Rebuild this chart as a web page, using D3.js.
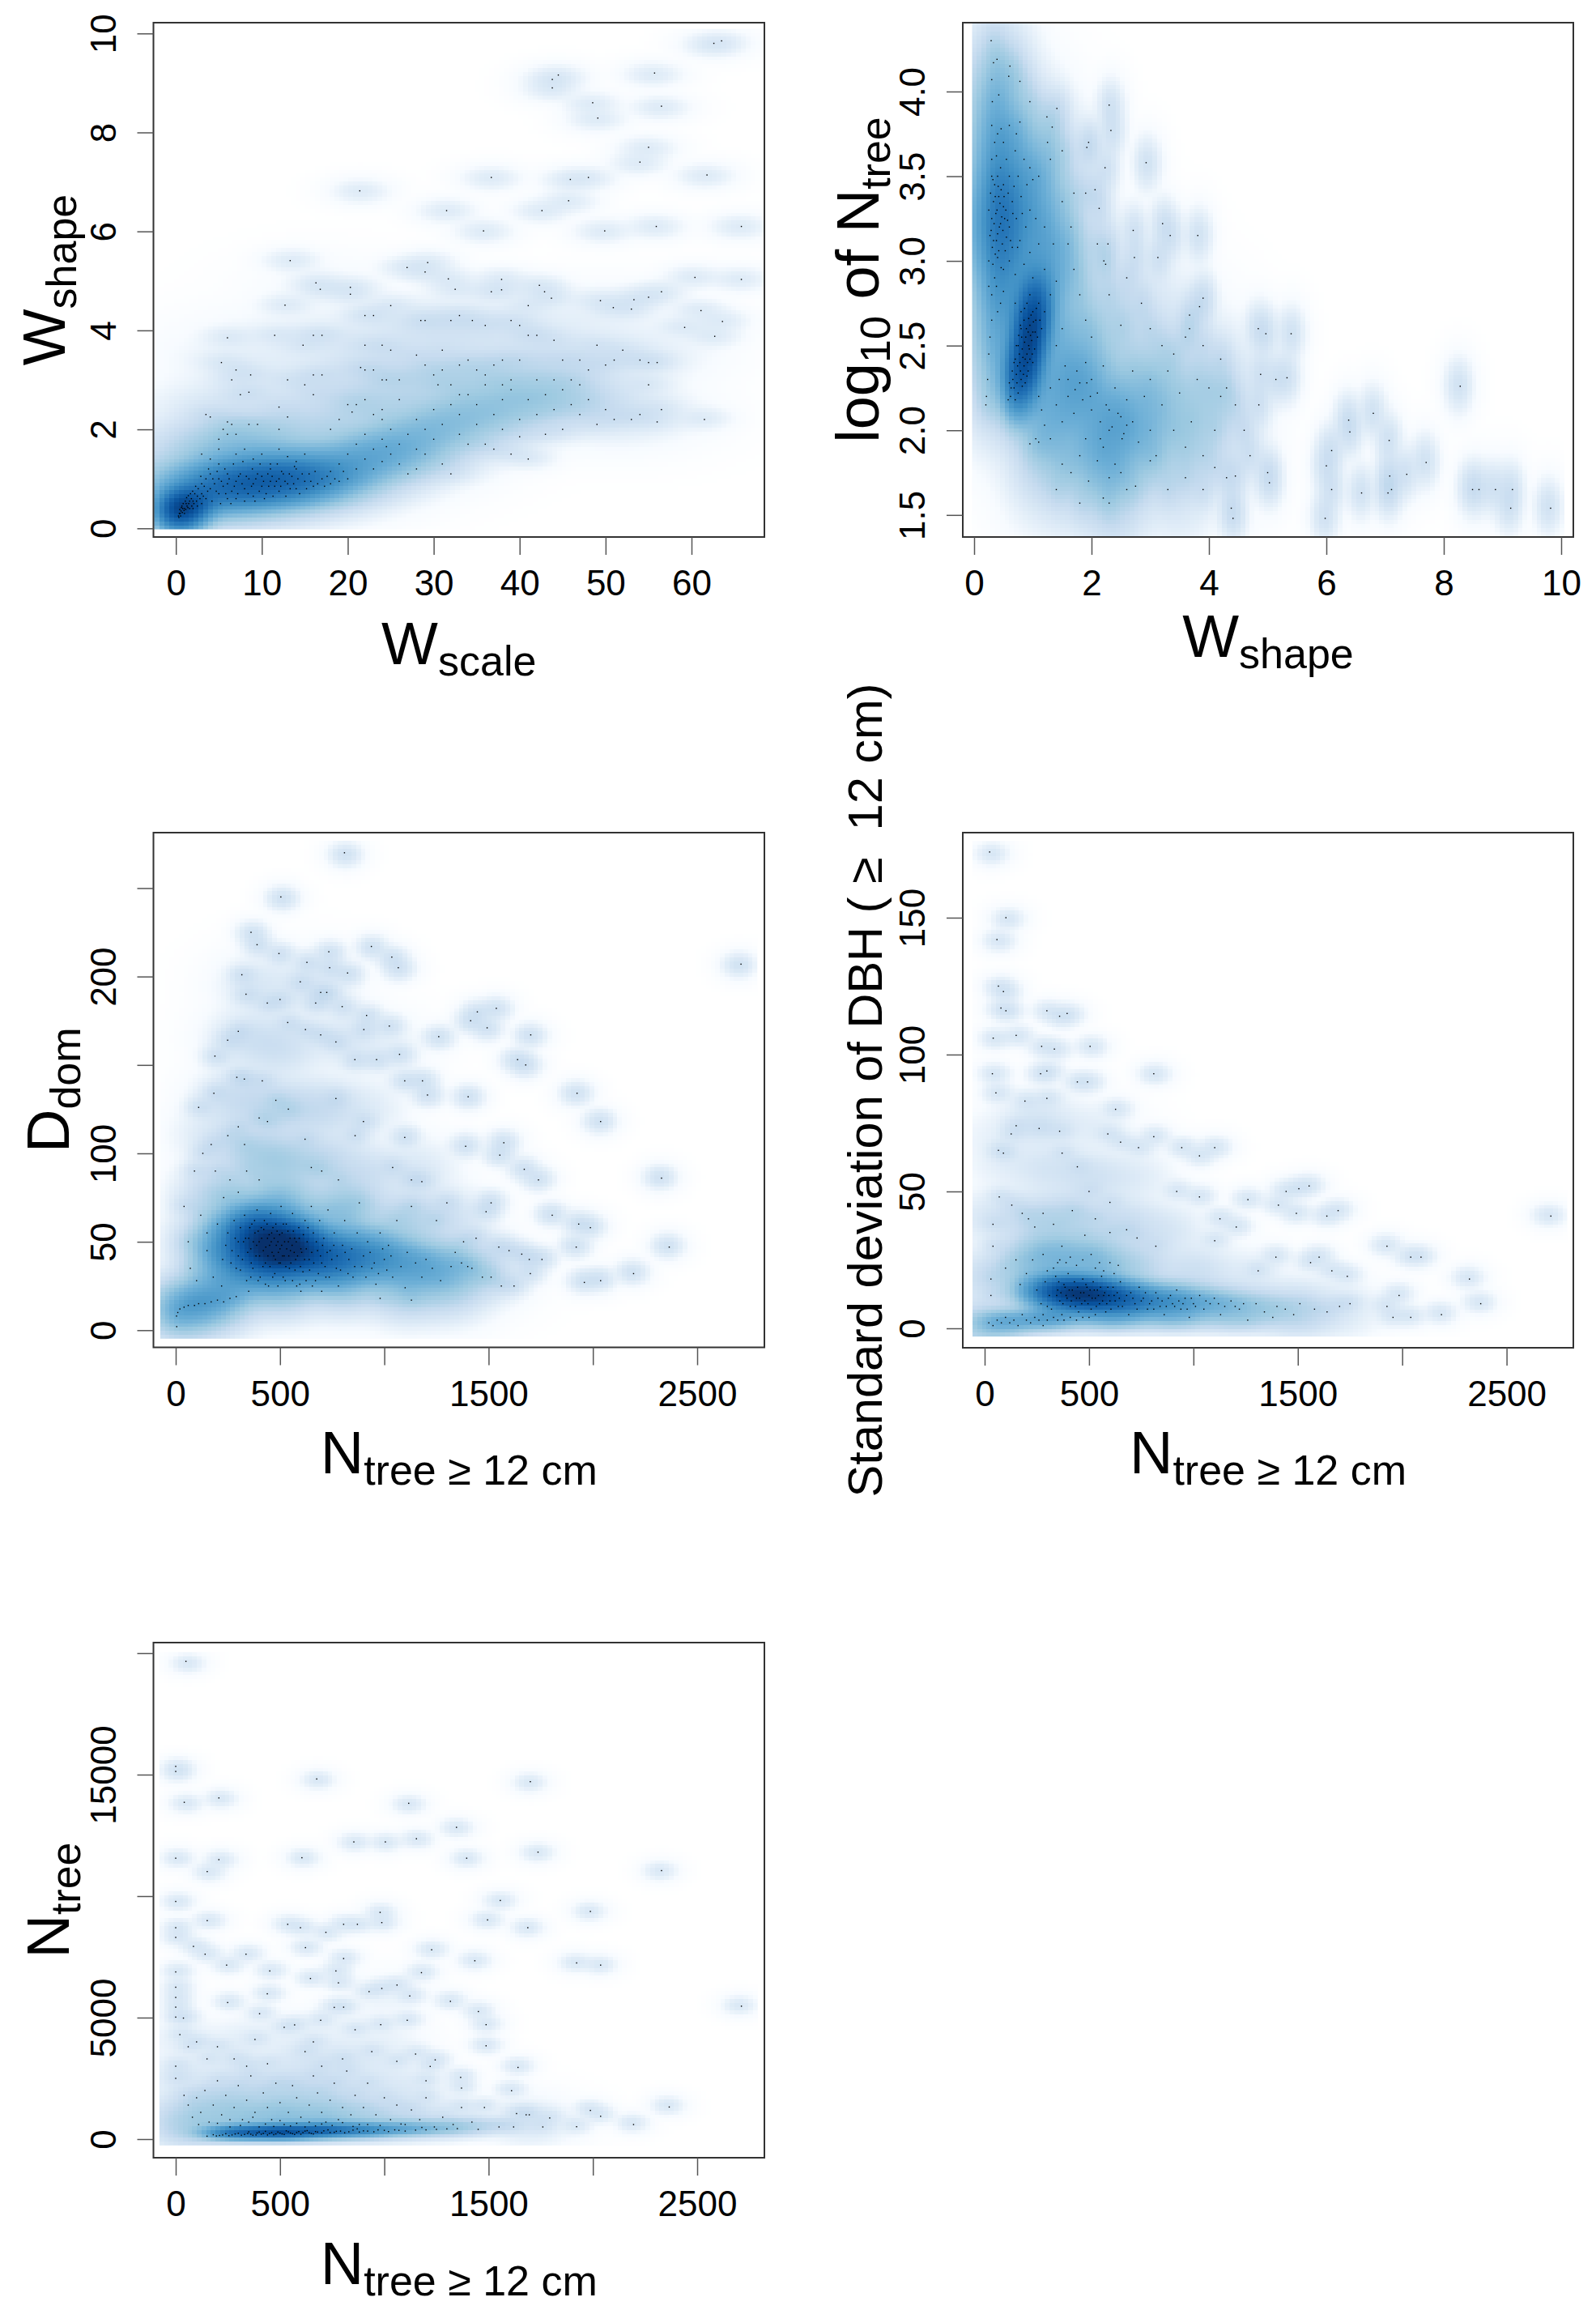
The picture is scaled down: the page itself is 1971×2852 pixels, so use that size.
<!DOCTYPE html>
<html>
<head>
<meta charset="utf-8">
<script src="https://cdnjs.cloudflare.com/ajax/libs/d3/7.8.5/d3.min.js"></script>
<style>
body { margin: 0; background: #fff; }
text { font-family: "Liberation Sans", Arial, sans-serif; fill: #000; }
</style>
</head>
<body>
<div id="chart"></div>
<script>
// points, [x, y]
const wShapeByScale = [[63.5,9.85],[62.6,9.8],[43.8,9.07],[44.5,9.16],[43.8,8.9],[48.5,8.6],[49.1,8.29],[55.7,9.2],[56.5,8.53],[55,7.7],[54,7.4],[61.8,7.14],[48,7.09],[45.9,7.05],[45.7,6.62],[42.6,6.42],[36.7,7.09],[21.4,6.82],[31.5,6.42],[35.8,6.01],[49.9,6.01],[55.9,6.1],[65.8,6.1],[13.3,5.41],[29,5.18],[29.3,5.37],[26.9,5.27],[16.3,4.96],[16.8,4.83],[20.3,4.87],[20.3,4.73],[12.7,4.51],[31.7,5.04],[37.9,5.03],[32.5,4.83],[36.7,4.78],[37.9,4.82],[42.3,4.91],[42.9,4.78],[43.7,4.65],[60.4,5.07],[65.8,5.03],[56.5,4.78],[55,4.67],[53.3,4.62],[49.4,4.6],[50.9,4.46],[53,4.43],[61.1,4.4],[63.6,4.18],[59.2,4.06],[62.7,3.88],
[.3,.25],[.4,.3],[.5,.3],[.6,.35],[.8,.4],[1,.4],[.7,.45],[1.2,.5],[1.5,.5],[1.3,.45],[1.8,.6],[2,.55],[2.2,.7],[2.5,.65],[1,.3],[1.6,.4],[2,.4],[2.5,.45],[3,.5],[3,.7],[3.5,.6],[3,.9],[3.5,1],[4,.8],[4,1.1],[4.5,.9],[5,.7],[5,1],[5,1.3],[5.5,.85],[6,.6],[6,.9],[6,1.1],[6.5,.75],[7,.95],[7,.6],[7.5,1.1],[8,.8],[8,.55],[8.5,1],[9,.9],[9,.65],[9.5,1.1],[10,.85],[10,1.05],[10.5,.7],[11,.95],[11,1.2],[11.5,.85],[12,1],[12,.75],[12.5,1.1],[13,.9],[13.5,1.05],[14,.8],[14,1.2],[15,.95],[15.5,1.1],[16,.85],[17,1],[18,1.15],[18,.9],[5,1.8],[5.5,2],[6,1.9],[6.5,2.1],[7,1.9],[4,1.4],[3,1.5],[5,1.6],[7,1.5],[8,1.6],[9,1.4],[10,1.5],[11,1.3],[12,1.6],[13,1.45],[14,1.35],[15,1.5],[3.5,2.3],[4,2.25],[6,2.15],[8.5,2.1],[9.5,2.1],[12,2],[13,2.25],[12,2.45],[7.5,2.7],[8.5,2.75],[8.7,3.1],[6.5,3],[5.3,3.35],[7,3.2],[13,3],[14.8,3.7],[11.5,3.9],[6,3.85],[16,3.9],[17,3.9],[15,2.9],[16,3.1],
[19,1.3],[20,1.5],[20,1],[21,1.7],[21,1.2],[22,1.9],[22,1.4],[23,1.6],[23,1.2],[24,1.8],[24,1.35],[24.5,1.65],[25,1.5],[25,2],[26,1.3],[26,1.7],[27,1.1],[27,1.9],[28,1.6],[28,2.2],[28,1.2],[29,2],[29,1.5],[30,1.8],[30,2.4],[31,1.3],[31,2.1],[32,1.1],[32,2.5],[33,1.9],[33,2.3],[34,2.7],[34,1.7],[35,2.1],[35,2.5],[36,1.7],[36,2.9],[37,2.3],[37,1.6],[38,2.6],[38,2],[39,1.5],[39,2.8],[40,2.2],[40,1.85],[41,1.4],[41,2.6],[42,2.3],[42,3],[43,1.9],[43,2.7],[44,2.4],[44,3],[45,2],[45,2.8],[46,2.5],[47,2.3],[47,2.9],[48,2.6],[49,2.1],[50,2.4],[51,2.2],[53,2.2],[54,2.3],[56,2.15],[56.5,2.4],[61.5,2.2],[50,3.3],
[20,2.5],[21,2.5],[20.5,2.35],[22,2.6],[19,2.2],[18,2],[23,2.3],[24,2.4],[26,2.6],[24,2.2],[26,3],[22,3.2],[21.5,3.25],[23,3.2],[24,3],[24.5,3],[17,3.1],[16,2.7],[22,3.7],[24,3.7],[25,3.6],[28,3.5],[29,3.3],[30,3.1],[31,3.2],[30.5,2.9],[32,2.9],[33,2.7],[31,3.6],[33,3.3],[34,3.4],[35,3.2],[36,3.1],[37,3.3],[38,3.4],[39,3],[38,2.9],[40,3.4],[41,3.9],[42,3.9],[44,3.8],[45,3.4],[46,3],[47,3.4],[48,3.2],[49,3.7],[51,3.4],[52,3.6],[54,3.4],[55,2.9],[56,3.35],[55,3.35],[25,4.5],[22,4.3],[23,4.3],[28.5,4.2],[29,4.2],[32,4.2],[33,4.3],[34.5,4.2],[36,4.1],[39,4.2],[40,4.1],[41,4.5],
[.35,.22],[.45,.38],[.55,.25],[.65,.42],[.75,.32],[.85,.5],[.95,.36],[1.1,.55],[1.15,.38],[1.25,.62],[1.4,.42],[1.45,.66],[1.6,.55],[1.7,.7],[1.85,.45],[1.95,.75],[2.1,.5],[2.3,.85],[2.4,.55],[2.6,.8],[2.8,.6],[2.9,1.05],[3.2,.65],[3.3,.85],[3.7,.75],[3.8,1.2],[4.2,.55],[4.3,1],[4.7,.75],[4.8,1.15],[5.2,.5],[5.3,.95],[5.7,1.2],[5.8,.7],[6.2,1],[6.4,.5],[6.7,1.3],[6.8,.85],[7.2,.7],[7.3,1.05],[7.7,.9],[7.8,1.35],[8.2,1.05],[8.4,.7],[8.8,.85],[8.9,1.2],[9.2,.55],[9.3,1],[9.7,.75],[9.8,1.3],[10.2,.95],[10.3,.6],[10.7,1.1],[10.8,.85],[11.2,1.05],[11.3,.65],[11.7,.95],[11.8,1.3],[12.2,.85],[12.3,1.15],[12.7,.95],[12.8,.65],[13.2,1.1],[13.3,.8],[13.7,.9],[13.8,1.25],[14.2,1],[14.4,.7],[14.7,1.1],[15.2,.8],[15.7,.95],[16.2,1.15],[16.5,.9],[17.3,.85],[17.6,1.05],[18.5,1],[19,.95],[19.5,1.15]];
// broad shade, [x, y, shade 0-1, x width, y width]
const wShapeByScaleShade = [[.2,.3,1,1,2],[1.5,.45,.85,1,1.6],[4,.7,.74],[7,.85,.74],[10,.92,.78],[13,.97,.74],[16,1,.62],[19,1.15,.5],[22,1.4,.48],[25,1.55,.48],[28,1.8,.42],[31,2.1,.42],[35,2.3,.38],[39,2.5,.37],[43,2.7,.36],[47,2.6,.27],[52,2.3,.22],[30,3,.33],[36,3.1,.3],[42,3.3,.27],[48,3.4,.22],[54,3.5,.18],[22,2.6,.33],[16,2.1,.3],[10,1.7,.4],[6,1.7,.38],[3,1.5,.32],[5,2.4,.22],[10,2.6,.2],[16,3,.18],[23,3.3,.24],[29,4,.24],[35,4,.22],[42,4,.18],[50,4.3,.15],[6,3.4,.14],[10,3.3,.14],[8,3.9,.1],[14,3.8,.15],[20,3.8,.18],[18,4.8,.12],[0,1,.33]];

const logNByShape = [[2.93,3.58],[3.34,3.15],[3.21,3.22],[3.81,3.15],[2.71,3.18],[2.73,3.02],[3.13,3.02],[3.9,2.78],[3.84,2.73],[3.67,2.68],[3.67,2.6],[4.84,2.6],[4.97,2.57],[5.4,2.57],[5.14,2.3],[5.33,2.31],[4.88,2.33],[8.28,2.26],[6.38,2.06],[6.4,1.99],[6.8,2.1],[7.07,1.94],[6.09,1.88],[6,1.79],[7.7,1.81],[7.37,1.74],[7.08,1.73],[6.09,1.65],[6.6,1.63],[7.05,1.63],[7.11,1.65],[8.49,1.65],[8.6,1.65],[8.88,1.65],[9.17,1.65],[9.14,1.54],[9.82,1.54],[5.98,1.48],[5,1.75],[5.03,1.69],[4.45,1.73],[4.38,1.54],[4.41,1.48],[2.3,3.92],[2.33,3.77],[1.95,3.7],[1.92,3.67],[2.23,3.55],[2.06,3.42],[2.13,3.31],[2.28,3.1],[2.21,3],[2.24,2.98],[.29,4.3],[.33,4.17],[.39,4.19],[.61,4.15],[.59,4.09],[.78,4.06],[.3,4.07],[.95,3.94],[.42,3.98],[.31,3.94],[1.41,3.9],[1.24,3.85],[1.33,3.79],[.78,3.82],[.72,3.75],[.46,3.78],
[.3,3.8],[.35,3.7],[.4,3.75],[.5,3.7],[.6,3.8],[.3,3.6],[.38,3.62],[.45,3.55],[.55,3.6],[.7,3.65],[.85,3.6],[.95,3.55],[.3,3.5],[.35,3.45],[.4,3.5],[.5,3.45],[.6,3.5],[.75,3.5],[.9,3.45],[1,3.48],[1.1,3.5],[.28,3.4],[.33,3.35],[.42,3.38],[.5,3.32],[.58,3.4],[.65,3.35],[.8,3.38],[.95,3.3],[.25,3.3],[.3,3.25],[.37,3.28],[.45,3.22],[.52,3.25],[.6,3.2],[.72,3.25],[.88,3.2],[1.05,3.25],[1.2,3.2],[.27,3.15],[.33,3.12],[.4,3.16],[.48,3.1],[.55,3.14],[.65,3.08],[.78,3.12],[.95,3.05],[1.1,3.1],[1.35,3.1],[.25,3],[.32,2.98],[.4,3.02],[.5,2.95],[.6,3],[.7,2.92],[.85,2.98],[1,2.9],[1.2,2.95],[1.4,2.88],[.25,2.85],[.3,2.8],[.38,2.85],[.45,2.75],[.5,2.82],[.4,2.7],[.3,2.65],[.27,2.55],[.25,2.45],[.23,2.3],[.21,2.2],[.2,2.15],[.35,2.9],
[.7,2.75],[.8,2.7],[.9,2.75],[.95,2.8],[1,2.7],[1.05,2.65],[1.1,2.75],[.85,2.65],[.95,2.62],[1,2.58],[1.08,2.55],[.8,2.6],[.88,2.55],[.93,2.5],[.98,2.53],[1.03,2.48],[.75,2.5],[.82,2.48],[.9,2.45],[.95,2.42],[1,2.4],[.7,2.42],[.78,2.4],[.85,2.38],[.92,2.35],[.65,2.35],[.72,2.33],[.8,2.3],[.87,2.28],[.6,2.28],[.68,2.25],[.75,2.22],[.62,2.2],[.7,2.18],[.58,2.18],[1.15,2.6],[1.2,2.7],[1.3,2.8],
[1.1,2.2],[1.15,2.12],[1.2,2.03],[1.3,2.25],[1.4,2.15],[1.45,2.3],[1.5,2.05],[1.55,2.38],[1.6,2.2],[1.7,2.1],[1.75,2.35],[1.8,2.28],[1.85,2.18],[1.9,2.4],[2,2.3],[2,2.12],[2.1,2.22],[2.15,2.05],[2.2,2.38],[2.3,2.12],[2.35,2.02],[2.4,2.25],[2.5,2.08],[2.55,1.98],[2.6,2.18],[2.7,2.35],[2.7,2.05],[2.8,1.93],[2.9,2.2],[3,2.3],[3,2],[3.1,1.85],[3.2,2.15],[3.3,2.35],[3.4,2],[3.5,2.22],[3.6,1.9],[3.7,2.05],[3.8,2.3],[3.9,1.85],[4,2.25],[4.1,2],[4.2,2.2],[4.3,2.25],[4.45,2.15],[4.6,2],[4.7,1.85],[4.85,2.15],[1.05,1.95],[.95,1.92],[1.1,1.93],[1.3,1.95],[1.5,1.8],[1.65,1.75],[1.8,1.85],[1.95,1.7],[2.1,1.82],[2.2,1.6],[2.3,1.72],[2.4,1.8],[2.5,1.75],[2.6,1.65],[2.75,1.67],[3,1.82],[3.3,1.65],[3.6,1.72],[3.9,1.65],[4.1,1.78],[4.3,1.72],[1.4,1.65],[1.8,1.57],[2.3,1.57],[1.9,1.95],[2.2,1.9],
[1.5,3.35],[1.6,3.1],[1.7,2.95],[1.8,2.8],[1.9,2.65],[2,2.55],[1.5,2.6],[1.4,2.5],[2.3,2.8],[2.5,2.62],[2.6,2.9],[2.85,2.75],[3,2.6],[3.2,2.5],[3.4,2.45],[3.6,2.55],[3.9,2.5],[4.2,2.42],[1.25,3.7],[1.3,3.6],[1.5,3.65],[1.7,3.4],[1.9,3.4],[1.65,3.2],[2.1,3.1],
[.72,2.5],[.76,2.56],[.79,2.35],[.83,2.43],[.86,2.52],[.89,2.6],[.91,2.4],[.94,2.48],[.96,2.56],[.99,2.45],[1.01,2.64],[.84,2.33],[.73,2.28],[.66,2.3],[.77,2.45],[.81,2.55],[.87,2.42],[.92,2.58],[.97,2.68],[1.04,2.58],[1.06,2.72],[1.12,2.65],[.68,2.4],[.63,2.25],[.82,2.26],[.9,2.32],[.74,2.38],[.79,2.62],[.86,2.72],[.93,2.66],
[.32,3.48],[.36,3.38],[.39,3.3],[.41,3.44],[.43,3.2],[.44,3.34],[.46,3.42],[.47,3.26],[.49,3.18],[.51,3.38],[.53,3.06],[.34,3.22],[.31,3.08],[.36,3.04],[.29,3.18],[.38,3.12],[.42,3.06],[.46,2.96],[.54,3.3],[.57,3.24],[.62,3.12],[.66,3.28],[.68,3.44],[.74,3.08],[.82,3.28],[1.6,2.3],[1.72,2.24],[1.92,2.28],[1.98,2.2],[2.25,2.15],[2.45,2.1],[2.6,2.03],[2.3,2],[2.52,1.95],[2.15,1.95]];
const logNByShapeShade = [[.35,4.05,.42],[.35,3.8,.52],[.4,3.55,.62],[.45,3.3,.74],[.45,3.05,.68],[.45,2.8,.6],[.4,2.55,.5],[.35,2.3,.38],[.12,3.2,.48],[.9,2.52,1,1.5,2.2],[.72,2.3,.88,1.5,1.8],[1.05,2.72,.88,1.5,1.8],[1.2,3,.58],[1,3.3,.56],[.95,3.65,.42],[1.2,3.5,.36],[1.5,3,.42],[1.5,3.5,.23],[2,3,.24],[2,2.55,.36],[1.5,2.6,.42],[1.4,2.3,.5],[1.8,2.25,.56],[2.4,2.05,.56],[2,1.9,.45],[1.4,1.9,.38],[2.9,1.95,.45],[3,2.2,.44],[3.5,2.1,.34],[3.9,2.1,.34],[4.2,2.2,.3],[2.3,1.8,.42],[3.5,1.85,.3],[1.2,2.05,.42],[1,1.85,.26],[2.4,1.6,.28],[3.5,1.6,.18],[3.5,2.5,.24],[2.5,2.6,.32],[3,2.7,.2],[1.6,1.75,.24],[4.5,1.9,.17]];

const dDomByN = [[809,270],[504,245],[361,225],[390,218],[495,213],[317,201],[629,208],[734,214],[738,205],[824,202],[938,217],[1036,211],[1067,205],[2710,207],[597,197],[724,191],[695,191],[671,185],[337,190],[500,187],[439,185],[798,183],[915,178],[1024,172],[1446,180],[1537,182],[1414,175],[1493,171],[1702,167],[1261,166],[300,169],[249,164],[188,155],[902,170],[695,167],[768,163],[622,170],[537,174],[1073,156],[963,153],[859,153],[1639,153],[1678,150],[1924,134],[2037,118],[1402,132],[1183,141],[1098,141],[1207,133],[415,141],[329,142],[293,143],[183,134],[110,126],[768,131],[2329,86],[2366,47],[2195,32],[2037,28],[1959,27],[1988,58],[1932,60],[1920,47],[1805,65],[1739,85],[1671,91],[1573,106],[1554,99],[1390,104],[1098,109],[1512,72],[1488,67],[1695,40],[1756,40],[1659,43],[1549,47],[1598,45],[1700,32],[1622,25],[1561,25],[1512,30],
[5,2],[4,8],[10,10],[20,12],[40,13],[60,14],[90,14],[110,15],[140,15],[170,16],[200,17],[230,16],[260,18],[290,19],[60,50],[40,70],[90,90],[130,100],[170,105],[190,90],[120,65],[150,45],[70,35],[100,28],[180,30],[220,25],[150,55],[200,60],[230,75],[260,85],[300,78],[340,90],[400,85],[250,110],[300,115],[330,105],[400,120],[440,118],[480,130],[540,125],[620,108],[650,92],[700,90],[780,85],[860,110],[900,118],[1040,92],[1130,85],[1180,84],
[250,55],[270,45],[280,62],[290,35],[300,50],[310,58],[320,40],[330,65],[340,28],[350,52],[360,46],[365,60],[370,35],[380,55],[385,42],[390,68],[400,50],[405,30],[410,58],[420,45],[425,62],[430,38],[440,52],[445,25],[450,48],[455,66],[460,55],[470,42],[475,32],[480,60],[490,50],[495,38],[500,46],[505,70],[510,55],[520,42],[525,28],[530,60],[540,50],[545,35],[550,45],[560,66],[570,52],[575,40],[580,25],[590,58],[600,46],[610,33],[620,62],[630,50],[640,40],[650,70],[660,55],[670,28],[680,45],[690,62],[700,38],[710,52],[720,30],[730,68],[740,45],[760,55],[770,35],[780,25],[800,48],[810,62],[830,40],[850,30],[870,55],[880,72],[900,42],[920,50],[940,35],[960,26],[980,55],[1000,40],[1020,48],[1040,30],[1060,62],[1080,36],[1100,24],[1110,44],[1130,70],[1150,38],[1180,30],[1200,40],[1230,35],[1250,62],[1270,28],[1300,72],[1320,36],[1340,44],[1370,38],[1380,50],[1400,36],[1420,35],[1440,52],[1470,30],[1130,17],[980,18],[700,22],[600,22],[350,22],
[335,52],[345,44],[355,58],[362,38],[372,50],[378,62],[388,48],[395,56],[402,42],[412,52],[418,36],[422,57],[432,47],[438,60],[442,42],[448,54],[452,36],[458,50],[462,44],[466,58],[472,52],[478,40],[482,48],[486,56],[492,44],[498,54],[502,38],[508,48],[512,42],[516,60],[522,50],[528,36],[532,46],[538,56],[542,42],[548,52],[552,38],[558,48],[564,56],[568,44],[572,34],[578,50],[584,42],[592,52],[598,36],[604,44],[612,54],[618,40],[626,46],[634,58],[642,34],[652,44],[662,38],[674,50],[684,32],[694,42],[704,48],[716,36],[726,44],[736,30],[748,40],[758,48],[774,42],[790,34],[812,44],[826,32],[844,46],[858,36],[892,36],[912,30],[932,44],[952,38],[972,32],[992,46],[1012,34],[1032,42],[310,34],[325,50],[300,42],[285,52],[265,38],[240,48],[225,40],[360,30],[395,28],[430,26],[465,30],[490,25],[515,30],[560,28],[595,26],[625,28],[655,25]];
const dDomByNShade = [[500,48,1],[370,55,.95],[430,42,.95],[570,45,.94],[700,40,.86],[850,42,.78],[1000,40,.68],[1150,36,.6],[1300,34,.5],[1450,33,.36],[250,42,.7],[190,50,.46],[300,30,.62],[500,25,.56],[800,27,.5],[1100,22,.42],[1300,22,.36],[500,72,.52],[800,68,.48],[1100,62,.36],[1300,62,.27],[210,75,.4],[350,100,.36],[500,95,.4],[700,95,.33],[900,88,.28],[1150,90,.22],[300,130,.3],[500,125,.34],[700,125,.3],[900,125,.2],[500,160,.27],[350,165,.26],[800,165,.22],[1000,160,.16],[180,110,.22],[20,10,.55],[100,15,.58],[200,18,.55],[400,195,.22],[650,195,.22]];

const sdByN = [[24,174],[102,150],[59,142],[66,125],[90,123],[78,117],[102,116],[298,116],[359,114],[395,115],[505,103],[334,102],[273,103],[41,106],[151,107],[810,93],[444,90],[493,90],[298,94],[268,93],[37,93],[54,86],[193,83],[298,84],[627,80],[151,74],[127,71],[261,73],[359,72],[810,70],[651,68],[737,66],[1029,63],[1102,66],[66,65],[90,64],[590,71],[944,66],[444,59],[371,64],[1505,51],[1444,50],[1554,52],[1693,43],[1639,41],[1493,42],[1407,45],[1261,47],[2712,41],[1927,30],[2090,26],[2041,26],[2322,18],[2376,9],[2188,5],[2041,4],[1927,8],[1985,12],[1956,4],[1602,26],[1561,24],[1737,19],[1663,21],[1395,26],[1310,21],[1102,32],[1205,37],[1127,40],[920,50],[1029,48],
[20,2],[40,1],[60,3],[80,2],[100,4],[120,2],[140,3],[160,1],[180,5],[200,3],[220,2],[240,4],[260,3],[280,1],[40,38],[40,30],[30,18],[70,48],[30,12],[130,45],[180,42],[210,40],[240,37],[280,42],[330,38],[370,30],[420,43],[480,34],[530,40],[600,35],[680,36],[730,33],[820,30],[500,50],[600,46],[200,20],[150,25],[100,22],[170,16],[230,25],[280,27],[350,24],[410,26],[510,27],[550,24],[600,24],[640,23],
[250,14],[270,9],[290,17],[310,12],[320,7],[340,19],[350,14],[360,10],[370,5],[380,16],[390,12],[400,20],[410,8],[420,14],[430,17],[440,11],[450,6],[460,13],[470,18],[480,10],[490,15],[500,12],[510,7],[520,17],[530,11],[540,14],[550,9],[560,19],[570,12],[580,6],[590,15],[600,10],[620,12],[640,8],[650,17],[670,10],[690,5],[700,13],[720,9],[740,15],[760,11],[780,7],[800,10],[820,13],[840,8],[860,5],[880,11],[900,9],[920,14],[940,7],[960,11],[980,4],[1000,9],[1030,12],[1050,7],[1080,9],[1100,11],[1130,5],[1150,8],[1180,10],[1220,7],[1260,3],[1300,9],[1340,6],[1380,4],[1400,8],[1440,7],[1480,5],[1510,9],[1580,7],[1640,6],[1700,8],[1750,9],
[345,12],[355,17],[365,13],[375,9],[385,15],[395,11],[405,14],[415,10],[425,12],[435,8],[445,15],[455,11],[465,9],[475,13],[485,16],[495,9],[505,14],[515,11],[525,14],[535,8],[545,12],[555,15],[565,10],[575,13],[585,9],[595,12],[605,7],[615,15],[625,10],[635,13],[645,11],[660,8],[680,12],[710,11],[730,7],[750,10],[770,13],[790,9],[810,7],[830,11],[850,10],[870,8],[890,12],[910,8],[930,10],[950,9],[970,7],[990,11],[1010,8],[1060,10],[1120,9],[1200,8],[1240,9],[300,8],[280,5],[300,3],[330,4],[350,3],[380,3],[410,4],[440,3],[470,4],[500,4],[530,5],[300,21],[330,22],[360,25],[390,24],[440,23],[470,25],[530,22],[570,21],[620,20]];
const sdByNShade = [[440,12,1,2.5,1.8],[550,11,.95,2.5,1.8],[330,13,.9,2.5,1.8],[700,9.5,.85,2.5,1.8],[900,9,.72,2.5,1.8],[1100,8,.54,2.5,1.8],[1300,7,.42,2.5,1.8],[1500,6,.33],[1700,6,.22],[100,1.5,.58,2.5,1.2],[300,3,.68,2.5,1.2],[600,3,.56,2.5,1.2],[900,3,.46,2.5,1.2],[1200,2.5,.36,2.5,1.2],[1500,2,.24,2.5,1.2],[10,0,.42],[20,18,.3],[20,40,.22],[30,70,.15],[300,27,.5],[500,25,.52],[700,22,.38],[200,22,.4],[1000,20,.28],[1250,18,.2],[200,40,.3],[400,40,.36],[650,38,.3],[850,35,.24],[300,58,.24],[500,55,.26],[250,75,.25],[500,73,.18],[700,55,.2],[100,60,.18]];

const nTreeByN = [[49,19660],[0,15340],[0,15130],[41,13860],[207,14040],[676,14820],[1117,13820],[1700,14710],[1346,12830],[854,12230],[1005,12230],[1154,12360],[0,11560],[207,11500],[151,11010],[605,11580],[1395,11560],[1737,11810],[2329,11050],[0,9780],[1556,9820],[1988,9370],[980,9330],[988,8910],[1495,9020],[805,8840],[871,8840],[537,8840],[598,8700],[151,8990],[1688,8700],[0,8700],[0,8300],[720,8510],[622,7880],[1227,7790],[1434,7340],[85,7930],[141,7610],[337,7610],[244,7160],[805,7430],[1922,7250],[2037,7160],[451,6920],[768,6920],[1178,6850],[0,6880],[0,6250],[646,6610],[780,6430],[439,5980],[988,6200],[1061,6340],[927,6070],[1122,5890],[1317,5670],[0,5830],[0,5430],[249,5620],[2712,5470],[805,5430],[760,5420],[1451,5250],[0,5020],[37,4980],[402,5160],[695,4890],[1488,4710],[1110,4890],[983,4710],[1488,3840],[1641,2950],[2366,1320],[1988,1180],[2037,940],[2195,600],[1922,510],[1793,870],[1695,1000],[1634,1050],[1610,1990],[1366,2540],[1244,3260],[1220,2990],
[0,3000],[0,2500],[20,4300],[60,3800],[100,4000],[150,3300],[200,3800],[280,3300],[340,3000],[380,4100],[440,3100],[520,4600],[570,4700],[620,3600],[660,4000],[700,3000],[800,3300],[860,4500],[940,3600],[1060,3200],[1150,3500],[1200,2400],[1370,2100],
[40,1800],[60,1400],[80,900],[100,1700],[120,1100],[140,2000],[160,700],[180,1400],[200,2400],[220,1000],[240,1800],[260,500],[280,1300],[300,2200],[320,800],[340,1600],[360,2600],[380,1100],[400,500],[420,1900],[440,1300],[460,800],[480,2300],[500,1500],[520,600],[540,1100],[560,2200],[580,1700],[600,900],[620,500],[640,1400],[660,2600],[680,1900],[700,1100],[720,700],[740,1600],[760,2300],[780,800],[800,1300],[820,2800],[840,1000],[860,1800],[880,600],[900,1300],[920,2300],[960,1000],[1000,1700],[1030,800],[1060,1400],[1100,600],[1130,1200],[1170,800],[1200,1700],[1240,500],[1280,900],[1330,600],[1370,1300],[1420,700],[1450,400],[1480,1300],[1550,500],[1620,500],[1680,1000],[1760,500],
[150,120],[180,180],[210,150],[240,220],[270,170],[300,240],[330,190],[350,300],[370,160],[390,250],[410,200],[430,320],[450,230],[470,180],[490,290],[510,210],[530,340],[550,250],[570,190],[590,310],[610,270],[630,350],[650,230],[670,310],[700,260],[730,380],[760,280],[790,330],[830,300],[870,420],[900,340],[950,300],[1000,360],[1050,380],[1100,330],[1200,380],[1300,420],
[195,130],[225,170],[255,140],[285,210],[315,160],[345,230],[360,200],[385,170],[400,290],[420,230],[440,170],[460,270],[480,210],[500,250],[520,190],[540,300],[560,220],[580,270],[600,200],[620,330],[640,260],[660,210],[680,290],[710,340],[740,270],[770,320],[810,260],[850,370],[880,290],[920,330],[970,380],[1020,310],[1070,360],[1150,370],[1250,400],[1350,430],[110,600],[200,650],[260,800],[310,560],[350,700],[370,900],[430,620],[470,520],[500,760],[550,540],[580,650],[640,700],[670,540],[700,620],[750,560],[800,680],[850,520],[920,600],[980,560],[1080,620],[1180,480]];
const nTreeByNShade = [[500,220,1,2.5,.9],[300,200,.9,2.5,.9],[700,280,.9,2.5,.9],[900,300,.76,2.5,.9],[1100,350,.6,2.5,.9],[1300,400,.44,2.5,1],[1500,500,.3,2.5,1],[1700,600,.22],[100,400,.34],[20,500,.3],[20,1000,.25],[100,1200,.27],[200,1400,.3],[300,900,.4],[500,900,.45],[700,850,.44],[900,800,.36],[1100,800,.28],[1300,800,.2],[300,2000,.27],[500,2000,.31],[700,2000,.29],[900,2000,.23],[1100,2000,.2],[300,3000,.2],[600,3200,.22],[800,3200,.22],[1000,3000,.17],[30,2500,.22],[30,4000,.17],[800,4500,.14],[400,4300,.13],[300,4000,.16],[600,4200,.15],[1000,4000,.15],[1000,5800,.14]];

// tick values
const wScaleTicks = [0,10,20,30,40,50,60];
const wShapeTicks = [0,2,4,6,8,10];
const logNTicks = [1.5,2,2.5,3,3.5,4];
const nAdultTicks = [0,500,1000,1500,2000,2500];
const nAdultLabels = [0,500,1500,2500];
const dDomTicks = [0,50,100,150,200,250];
const dDomLabels = [0,50,100,200];
const sdTicks = [0,50,100,150];
const nTreeTicks = [0,5000,10000,15000,20000];
const nTreeLabels = [0,5000,15000];

const W = 1971, H = 2852, NBIN = 128;
const rampColors = ["#FFFFFF","#F7FBFF","#DEEBF7","#C6DBEF","#9ECAE1","#6BAED6","#4292C6","#2171B5","#08519C","#08306B"];
const ramp = d3.scaleLinear().domain(rampColors.map((c, i) => i / 9)).range(rampColors).clamp(true);

const svg = d3.select("#chart").append("svg").attr("width", W).attr("height", H);

const sub = (s) => ({ s: s, sub: true });
const nAdultLabel = ["N", sub("tree \u2265 12 cm")];

const panels = [
    { points: wShapeByScale, shade: wShapeByScaleShade, box: [189.5, 28, 944, 663], bw: [1.65, .12], peak: 430,
      x: { d: [0, 60], r: [217.2, 854], ticks: wScaleTicks }, y: { d: [0, 10], r: [652.3, 41.3], ticks: wShapeTicks },
      xLabel: ["W", sub("scale")], xBase: 820, yLabel: ["W", sub("shape")], yBase: 80 },
    { points: logNByShape, shade: logNByShapeShade, box: [1189, 28, 1943, 663], bw: [.117, .077], peak: 163,
      x: { d: [0, 10], r: [1203, 1928], ticks: wShapeTicks }, y: { d: [1.5, 4], r: [635.8, 113], ticks: logNTicks, fmt: d3.format(".1f") },
      xLabel: ["W", sub("shape")], xBase: 811, yLabel: ["log", sub("10"), " of N", sub("tree")], yBase: 1085 },
    { points: dDomByN, shade: dDomByNShade, box: [189.5, 1028, 944, 1663.5], bw: [39, 3.4], peak: 163,
      x: { d: [0, 2500], r: [217, 861], ticks: nAdultTicks, labels: nAdultLabels }, y: { d: [0, 250], r: [1642.3, 1096.5], ticks: dDomTicks, labels: dDomLabels },
      xLabel: nAdultLabel, xBase: 1819, yLabel: ["D", sub("dom")], yBase: 85 },
    { points: sdByN, shade: sdByNShade, box: [1189, 1028, 1943, 1664], bw: [39, 2], peak: 256,
      x: { d: [0, 2500], r: [1216, 1860.6], ticks: nAdultTicks, labels: nAdultLabels }, y: { d: [0, 150], r: [1640, 1133], ticks: sdTicks },
      xLabel: nAdultLabel, xBase: 1819, yLabel: ["Standard deviation of DBH ( \u2265\u00A0 12 cm)"], yBase: 1089, ySize: 59.5 },
    { points: nTreeByN, shade: nTreeByNShade, box: [189.5, 2028, 944, 2664], bw: [39, 190], peak: 300,
      x: { d: [0, 2500], r: [217, 861], ticks: nAdultTicks, labels: nAdultLabels }, y: { d: [0, 20000], r: [2641, 2041], ticks: nTreeTicks, labels: nTreeLabels },
      xLabel: nAdultLabel, xBase: 2820, yLabel: ["N", sub("tree")], yBase: 85 }
];

// smoothScatter style density on a 128 x 128 grid, shade^(1/4) colour ramp
function densityImage(p, x, y) {
    const xr = d3.extent(p.points, d => d[0]), yr = d3.extent(p.points, d => d[1]);
    const x0 = xr[0] - 2 * p.bw[0], x1 = xr[1] + 2 * p.bw[0];
    const y0 = yr[0] - 2 * p.bw[1], y1 = yr[1] + 2 * p.bw[1];
    const cx = d3.scaleLinear().domain([0, NBIN - 1]).range([x0, x1]);
    const cy = d3.scaleLinear().domain([0, NBIN - 1]).range([y1, y0]);
    const cv = document.createElement("canvas");
    cv.width = NBIN; cv.height = NBIN;
    const ctx = cv.getContext("2d"), img = ctx.createImageData(NBIN, NBIN);
    const sx = 2 * p.bw[0] * p.bw[0], sy = 2 * p.bw[1] * p.bw[1];
    for (let j = 0; j < NBIN; j++) {
        const gy = cy(j);
        for (let i = 0; i < NBIN; i++) {
            const gx = cx(i);
            let f = 0;
            for (const q of p.points) {
                const dx = gx - q[0], dy = gy - q[1];
                f += Math.exp(-dx * dx / sx - dy * dy / sy);
            }
            for (const m of p.shade) {
                const kx = m[3] || 2.5, ky = m[4] || kx, dx = gx - m[0], dy = gy - m[1];
                // pale masses need more weight than dark ones to reach their shade
                const w = Math.max(.5, 1.9 - 2.2 * m[2]);
                f += w * p.peak * Math.pow(m[2], 4) * Math.exp(-dx * dx / (sx * kx * kx) - dy * dy / (sy * ky * ky));
            }
            const c = d3.rgb(ramp(Math.pow(f / p.peak, .25))), o = 4 * (j * NBIN + i);
            img.data[o] = c.r; img.data[o + 1] = c.g; img.data[o + 2] = c.b; img.data[o + 3] = 255;
        }
    }
    ctx.putImageData(img, 0, 0);
    return { href: cv.toDataURL(), x: x(x0), y: y(y1), w: x(x1) - x(x0), h: y(y0) - y(y1) };
}

function addLabel(g, parts, size, subSize) {
    let shifted = false;
    parts.forEach(part => {
        const isSub = part.sub === true;
        const t = g.append("tspan").text(isSub ? part.s : part).attr("font-size", isSub ? subSize : size);
        if (isSub !== shifted) t.attr("dy", isSub ? 14 : -14);
        shifted = isSub;
    });
}

panels.forEach((p, idx) => {
    const [l, t, r, b] = p.box;
    const x = d3.scaleLinear().domain(p.x.d).range(p.x.r);
    const y = d3.scaleLinear().domain(p.y.d).range(p.y.r);
    const g = svg.append("g").attr("class", "panel");

    svg.append("clipPath").attr("id", "clip" + idx).append("rect")
        .attr("x", l).attr("y", t).attr("width", r - l).attr("height", b - t);
    const inner = g.append("g").attr("clip-path", "url(#clip" + idx + ")");

    const im = densityImage(p, x, y);
    inner.append("image").attr("href", im.href)
        .attr("x", im.x).attr("y", im.y).attr("width", im.w).attr("height", im.h)
        .attr("preserveAspectRatio", "none").style("image-rendering", "pixelated");

    inner.selectAll("rect.dot").data(p.points).join("rect").attr("class", "dot")
        .attr("x", d => x(d[0]) - .7).attr("y", d => y(d[1]) - .7)
        .attr("width", 1.4).attr("height", 1.4).attr("fill", "#000");

    g.append("rect").attr("x", l).attr("y", t).attr("width", r - l).attr("height", b - t)
        .attr("fill", "none").attr("stroke", "#333").attr("stroke-width", 2);

    const labelOf = (ax) => (v) => (ax.labels && !ax.labels.includes(v)) ? "" : (ax.fmt ? ax.fmt(v) : String(v));

    const xAxis = g.append("g").attr("transform", "translate(0," + b + ")")
        .call(d3.axisBottom(x).tickValues(p.x.ticks).tickSize(22).tickFormat(labelOf(p.x)));
    xAxis.select(".domain").remove();
    xAxis.selectAll("line").attr("stroke", "#555").attr("stroke-width", 1.5);
    xAxis.selectAll("text").attr("y", 72).attr("dy", 0).attr("font-size", 44).attr("font-family", null);

    const yAxis = g.append("g").attr("transform", "translate(" + l + ",0)")
        .call(d3.axisLeft(y).tickValues(p.y.ticks).tickSize(20).tickFormat(labelOf(p.y)));
    yAxis.select(".domain").remove();
    yAxis.selectAll("line").attr("stroke", "#555").attr("stroke-width", 1.5);
    yAxis.selectAll("text").attr("x", 0).attr("y", 0).attr("dy", 0).attr("text-anchor", "middle")
        .attr("transform", "translate(-47,0) rotate(-90)").attr("font-size", 44).attr("font-family", null);

    const xt = g.append("text").attr("x", (l + r) / 2).attr("y", p.xBase).attr("text-anchor", "middle");
    addLabel(xt, p.xLabel, 74, 52);

    const yt = g.append("text").attr("text-anchor", "middle")
        .attr("transform", "translate(" + p.yBase + "," + (t + b) / 2 + ") rotate(-90)");
    addLabel(yt, p.yLabel, p.ySize || 74, 52);
});
</script>
</body>
</html>
